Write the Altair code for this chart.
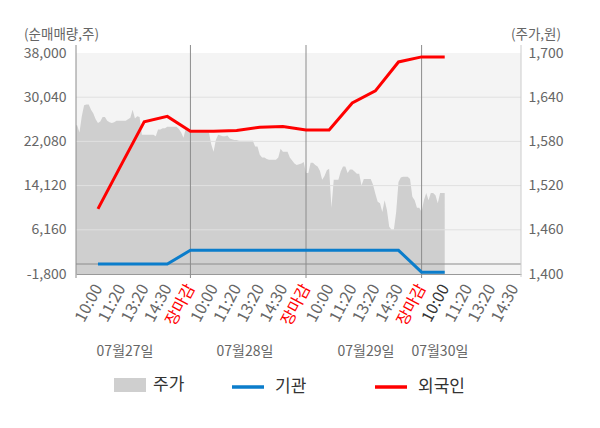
import altair as alt
import pandas as pd

# ---- tick labels / categories ----
x_tick_values = list(range(1, 20))
x_tick_labels = ['10:00', '11:20', '13:20', '14:30', '장마감'] * 3 + ['10:00', '11:20', '13:20', '14:30']
day_labels = ['07월27일', '07월28일', '07월29일', '07월30일']
day_label_pos = [2.17, 7.36, 12.59, 15.79]
day_bounds = [5, 10, 15]

left_ticks = [-1800, 6160, 14120, 22080, 30040, 38000]
right_ticks = [1400, 1460, 1520, 1580, 1640, 1700]
grid_vals = [6160, 14120, 22080, 30040]

# ---- stock price (주가), sampled every 0.1 slot within each day ----
price_day1 = [1602, 1602, 1592, 1614, 1629, 1630, 1630, 1623, 1618, 1610,
              1605, 1607, 1613, 1613, 1608, 1606, 1605, 1606, 1608, 1608,
              1608, 1608, 1608, 1610, 1612, 1623, 1611, 1614, 1613, 1589,
              1589, 1589, 1589, 1589, 1589, 1587, 1596, 1596, 1598, 1598,
              1600, 1600, 1600, 1600, 1600, 1597, 1592, 1585, 1598, 1596]
price_day2 = [1592, 1592, 1592, 1592, 1592, 1592, 1592, 1592, 1592, 1576,
              1566, 1582, 1589, 1588, 1587, 1587, 1588, 1584, 1583, 1582,
              1582, 1581, 1581, 1581, 1581, 1581, 1581, 1581, 1573, 1573,
              1562, 1558, 1558, 1556, 1555, 1555, 1555, 1555, 1558, 1570,
              1566, 1566, 1566, 1558, 1554, 1550, 1548, 1549, 1550, 1552]
price_day3 = [1537, 1537, 1551, 1551, 1548, 1546, 1540, 1528, 1533, 1541,
              1543, 1490, 1528, 1528, 1528, 1539, 1546, 1546, 1537, 1542,
              1542, 1539, 1536, 1536, 1520, 1529, 1529, 1529, 1529, 1521,
              1509, 1498, 1496, 1484, 1500, 1487, 1464, 1460, 1460, 1484,
              1525, 1531, 1532, 1532, 1532, 1529, 1505, 1500, 1490, 1490]
price_day4 = [1484, 1500, 1510, 1500, 1510, 1510, 1507, 1496, 1510, 1510, 1510]

# ---- net buying (순매매량) at each labelled slot ----
line_slots = list(range(1, 17))
foreign = [9920, 17800, 25600, 26580, 23910, 23910, 24040, 24640, 24760, 24150,
           24150, 28990, 31180, 36390, 37300, 37300]
inst = [0, 0, 0, 0, 2470, 2470, 2470, 2470, 2470, 2470,
        2470, 2470, 2470, 2470, -1470, -1470]

# ---- tables ----
rows = []
for d, day in enumerate([price_day1, price_day2, price_day3, price_day4]):
    for i, p in enumerate(day):
        rows.append({'slot': d * 5 + i * 0.1, 'price': p, 's': '주가'})
price_df = pd.DataFrame(rows)

lines_df = pd.DataFrame(
    [{'slot': s, 'value': v, 'series': '기관'} for s, v in zip(line_slots, inst)] +
    [{'slot': s, 'value': v, 'series': '외국인'} for s, v in zip(line_slots, foreign)]
)
grid_df = pd.DataFrame({'value': grid_vals})
zero_df = pd.DataFrame({'value': [0]})
bounds_df = pd.DataFrame({'slot': day_bounds})
dates_df = pd.DataFrame({'slot': day_label_pos, 'label': day_labels})
one_df = pd.DataFrame({'a': [0]})

W, H = 445, 221

label_arr = "[''," + ",".join("'%s'" % l for l in x_tick_labels) + "]"
xaxis = alt.Axis(
    values=x_tick_values, labelExpr=label_arr + "[datum.value]",
    labelAngle=298, labelFontSize=16, labelPadding=11,
    labelColor={"condition": [{"test": "datum.value % 5 == 0", "value": "#ff0000"},
                              {"test": "datum.value == 16", "value": "#333333"}],
                "value": "#666666"},
    ticks=False, grid=False, domainColor='#999999', title=None, labelOverlap=False,
)
xenc = alt.X('slot:Q', scale=alt.Scale(domain=[0.05, 19.3], nice=False, zero=False), axis=xaxis)

left_scale = alt.Scale(domain=[-1800, 38000], nice=False, zero=False)
left_axis = alt.Axis(
    values=left_ticks, labelExpr="replace(format(datum.value, ','), '\u2212', '-')",
    labelFontSize=14, labelColor='#666666', labelPadding=10, ticks=False, domain=False, grid=False,
    title='(순매매량,주)', titleAngle=0, titleAlign='center', titleBaseline='middle',
    titleX=-15, titleY=-19, titleFontSize=13.5, titleFontWeight='normal', titleColor='#666666',
)
yleft = alt.Y('value:Q', scale=left_scale, axis=left_axis)

right_axis = alt.Axis(
    orient='right', values=right_ticks, labelExpr="format(datum.value, ',')",
    labelFontSize=14, labelColor='#666666', labelPadding=7, ticks=False, domain=False, grid=False,
    title='(주가,원)', titleAngle=0, titleAlign='center', titleBaseline='middle',
    titleX=14.5, titleY=-19, titleFontSize=13.5, titleFontWeight='normal', titleColor='#666666',
)

area = alt.Chart(price_df).mark_area(clip=True, interpolate='linear').encode(
    x=xenc,
    y=alt.Y('price:Q', scale=alt.Scale(domain=[1400, 1700], nice=False, zero=False), axis=right_axis),
    y2=alt.value(H),
    fill=alt.Fill('s:N', scale=alt.Scale(domain=['주가'], range=['#cfcfcf']),
                  legend=alt.Legend(orient='none', legendX=38, legendY=316, direction='horizontal',
                                    title=None, symbolType='M-1,-0.4375H1V0.4375H-1Z', symbolSize=1024,
                                    symbolStrokeWidth=0, labelFontSize=17, labelColor='#333333',
                                    labelOffset=7)),
)

grid = alt.Chart(grid_df).mark_rule(color='#e0e0e0', strokeWidth=1).encode(y=yleft)
zero = alt.Chart(zero_df).mark_rule(color='#8c8c8c', strokeWidth=1).encode(y=yleft)
bounds = alt.Chart(bounds_df).mark_rule(color='#8c8c8c', strokeWidth=1).encode(
    x=xenc, y=alt.value(-8), y2=alt.value(H + 4))
left_edge = alt.Chart(one_df).mark_rule(color='#8c8c8c', strokeWidth=1).encode(
    x=alt.value(0), y=alt.value(-8), y2=alt.value(H + 4))
right_edge = alt.Chart(one_df).mark_rule(color='#cccccc', strokeWidth=1).encode(
    x=alt.value(W), y=alt.value(-8), y2=alt.value(H + 3))

lines = alt.Chart(lines_df).mark_line(strokeWidth=3).encode(
    x=xenc, y=yleft,
    stroke=alt.Stroke('series:N', scale=alt.Scale(domain=['기관', '외국인'], range=['#0b7dcb', '#ff0000']),
                      legend=alt.Legend(orient='none', legendX=154, legendY=316, direction='horizontal',
                                        title=None, symbolType='stroke', symbolSize=1024,
                                        symbolStrokeWidth=3.5, labelFontSize=17, labelColor='#333333',
                                        labelOffset=9, columnPadding=61)),
)

dates = alt.Chart(dates_df).mark_text(fontSize=14, color='#666666').encode(
    x=xenc, y=alt.value(298.7), text='label:N')

left_layer = alt.layer(grid, zero, bounds, left_edge, right_edge, lines, dates)

chart = alt.layer(area, left_layer).resolve_scale(y='independent').properties(
    width=W, height=H, autosize='none',
    padding={'left': 68, 'top': 45, 'right': 70, 'bottom': 140},
).configure(font='Noto Sans CJK KR').configure_view(strokeWidth=0, fill='#f4f4f4')

chart.save('out.html', embed_options={'renderer': 'svg', 'actions': False})
